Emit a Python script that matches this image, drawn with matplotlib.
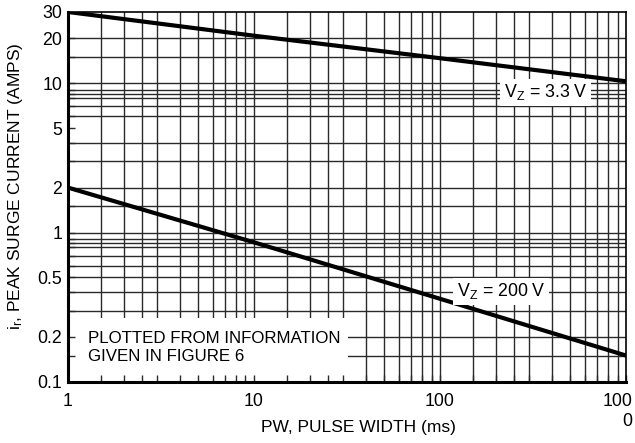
import matplotlib
matplotlib.use("Agg")
import matplotlib.pyplot as plt
import matplotlib.transforms as mtransforms
from matplotlib.ticker import FixedLocator, FixedFormatter, NullFormatter
from matplotlib.patches import Rectangle

plt.rcParams['font.family'] = ['Liberation Sans', 'DejaVu Sans']
plt.rcParams['mathtext.fontset'] = 'custom'
plt.rcParams['mathtext.rm'] = 'Liberation Sans'
plt.rcParams['mathtext.it'] = 'Liberation Sans'

# pulse width (ms) and peak surge current (A)
pw = [1, 10, 100, 1000]
i_33v = [30, 20.8, 14.7, 10.3]
i_200v = [2.0, 0.86, 0.36, 0.15]

x_ticks = [1, 10, 100, 1000]
x_labels = ['1', '10', '100', '100\n0']
y_ticks = [0.1, 0.2, 0.5, 1, 2, 5, 10, 20, 30]
y_labels = ['0.1', '0.2', '0.5', '1', '2', '5', '10', '20', '30']

# grid lines as printed on the original sheet
x_grid = [1.5, 2, 2.5, 3, 4, 5, 6, 7, 8, 9, 10,
          15, 20, 25, 30, 40, 50, 60, 70, 80, 90, 100,
          150, 200, 250, 300, 400, 500, 600, 700, 800, 900]
y_grid = [0.15, 0.2, 0.3, 0.4, 0.5, 0.6, 0.7, 0.8, 0.85, 0.9, 1,
          1.5, 2, 3, 4, 6, 7, 8, 8.5, 9, 10, 15, 20]

fig = plt.figure(figsize=(6.35, 4.43), dpi=100, facecolor="white")
ax = fig.add_axes([0.107, 0.138, 0.879, 0.835])
ax.set_xscale('log')
ax.set_yscale('log')
ax.set_xlim(1, 1000)
ax.set_ylim(0.1, 30)

gc = '#2a2a2a'
for x in x_grid:
    ax.axvline(x, color=gc, lw=1.0, zorder=1)
for y in y_grid:
    ax.axhline(y, color=gc, lw=1.0, zorder=1)

# white note box hides the grid in the lower-left corner
ax.add_patch(Rectangle((0, 0), 0.502, 0.174, transform=ax.transAxes,
                       facecolor='white', edgecolor='none', zorder=2))
ax.text(0.036, 0.092, 'PLOTTED FROM INFORMATION\nGIVEN IN FIGURE 6',
        transform=ax.transAxes, ha='left', va='center', fontsize=12.2,
        linespacing=1.25, zorder=2.2)

ax.set_axisbelow(False)
ax.plot(pw, i_33v, color='black', lw=3.0, solid_capstyle='butt', zorder=3)
ax.plot(pw, i_200v, color='black', lw=3.0, solid_capstyle='butt', zorder=3)

box = dict(facecolor='white', edgecolor='none', pad=2.5)
ax.text(370, 8.7, r'V$_{\mathregular{Z}}$ = 3.3 V', ha='center', va='center',
        fontsize=12.8, bbox=box, zorder=4)
ax.text(213, 0.405, r'V$_{\mathregular{Z}}$ = 200 V', ha='center', va='center',
        fontsize=12.8, bbox=box, zorder=4)

ax.xaxis.set_major_locator(FixedLocator(x_ticks))
ax.xaxis.set_major_formatter(FixedFormatter(x_labels))
ax.xaxis.set_minor_locator(FixedLocator([v for v in x_grid if v not in x_ticks]))
ax.xaxis.set_minor_formatter(NullFormatter())
ax.yaxis.set_major_locator(FixedLocator(y_ticks))
ax.yaxis.set_major_formatter(FixedFormatter(y_labels))
ax.yaxis.set_minor_locator(FixedLocator([v for v in y_grid if v not in y_ticks]))
ax.yaxis.set_minor_formatter(NullFormatter())

ax.tick_params(which='both', direction='in', length=5, width=1, color=gc,
               labelsize=12.8)
ax.tick_params(axis='x', which='major', pad=8)
ax.tick_params(axis='y', which='major', pad=4)
for lab in ax.get_xticklabels():
    lab.set_multialignment('right')

# keep the wrapped last label inside the figure edge
last = ax.get_xticklabels()[-1]
last.set_transform(last.get_transform() +
                   mtransforms.ScaledTranslation(-9 / 100, 0, fig.dpi_scale_trans))

for s in ['left', 'bottom']:
    ax.spines[s].set_linewidth(2.2)
for s in ['top', 'right']:
    ax.spines[s].set_linewidth(1.2)
for s in ax.spines.values():
    s.set_zorder(5)

ax.set_xlabel('PW, PULSE WIDTH (ms)', fontsize=12.5)
ax.xaxis.set_label_coords(0.521, -0.102)
ax.set_ylabel(r'i$_{\mathregular{r}}$, PEAK SURGE CURRENT (AMPS)', fontsize=12.5)
ax.yaxis.set_label_coords(-0.077, 0.53)

fig.savefig('out.png', dpi=100, facecolor='white')
